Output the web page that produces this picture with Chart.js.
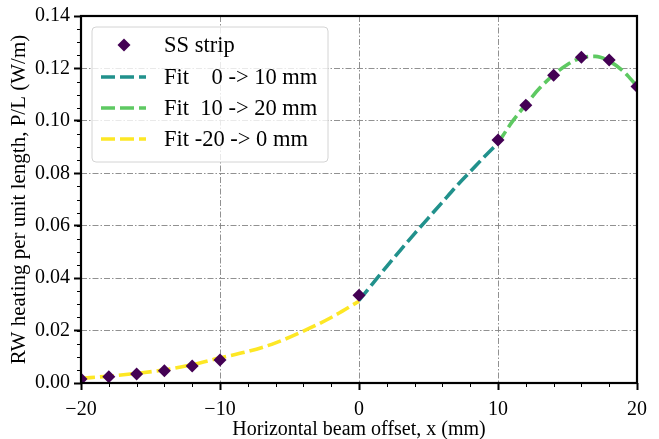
<!DOCTYPE html>
<html>
<head>
<meta charset="utf-8">
<script src="https://cdn.jsdelivr.net/npm/chart.js@4.4.1/dist/chart.umd.min.js"></script>
<style>
html,body{margin:0;padding:0;background:#fff;}
#wrap{width:659px;height:439px;position:relative;}
canvas{display:block;}
</style>
</head>
<body>
<div id="wrap"><canvas id="c" width="659" height="439"></canvas></div>
<script>
// ---- data ----
const stripX = [-20, -18, -16, -14, -12, -10, 0, 10, 12, 14, 16, 18, 20];
const stripY = [0.0015, 0.0024, 0.0034, 0.0047, 0.0065, 0.0088, 0.0335, 0.0927, 0.1060, 0.1174, 0.1243, 0.1232, 0.1131];

const fitAX = [0, 1, 2, 3, 4, 5, 6, 7, 8, 9, 10];
const fitAY = [0.0315, 0.0380, 0.0445, 0.0508, 0.0570, 0.0630, 0.0690, 0.0750, 0.0806, 0.0862, 0.0915];

const fitBX = [10, 11, 12, 13, 14, 15, 16, 17, 18, 19, 20];
const fitBY = [0.0915, 0.0995, 0.1062, 0.1125, 0.1175, 0.1215, 0.1240, 0.1246, 0.1228, 0.1190, 0.1133];

const fitCX = [-20, -18, -16, -14, -12, -10, -8, -6, -4, -2, 0];
const fitCY = [0.0018, 0.0026, 0.0037, 0.0050, 0.0070, 0.0096, 0.0120, 0.0153, 0.0198, 0.0250, 0.0312];

const xTicks = [-20, -10, 0, 10, 20];
const yTicks = [0.00, 0.02, 0.04, 0.06, 0.08, 0.10, 0.12, 0.14];
const xMinorStep = 2;
const yMinorStep = 0.005;

const seriesNames = ['SS strip', 'Fit    0 -> 10 mm', 'Fit  10 -> 20 mm', 'Fit -20 -> 0 mm'];
const seriesColors = ['#440154', '#21918c', '#5ec962', '#fde725'];

// ---- helpers ----
const pts = (xs, ys) => xs.map((x, i) => ({x: x, y: ys[i]}));
const FONT = "'Liberation Serif', 'DejaVu Serif', serif";
const DASH = [14, 5];

const minorTicks = {
  id: 'minorTicks',
  afterDraw(chart) {
    const ctx = chart.ctx;
    const xs = chart.scales.x, ys = chart.scales.y;
    const a = chart.chartArea;
    ctx.save();
    ctx.strokeStyle = '#000';
    ctx.lineWidth = 1;
    ctx.beginPath();
    for (let v = xs.min; v <= xs.max + 1e-9; v += xMinorStep) {
      const p = Math.round(xs.getPixelForValue(v)) + 0.5;
      ctx.moveTo(p, a.bottom); ctx.lineTo(p, a.bottom + 4);
    }
    for (let v = ys.min; v <= ys.max + 1e-9; v += yMinorStep) {
      const p = Math.round(ys.getPixelForValue(v)) + 0.5;
      ctx.moveTo(a.left, p); ctx.lineTo(a.left - 4, p);
    }
    ctx.stroke();
    // frame
    ctx.lineWidth = 2.2;
    ctx.strokeRect(a.left, a.top, a.right - a.left, a.bottom - a.top);
    ctx.restore();
  }
};

const legendBox = {
  id: 'legendBox',
  afterDraw(chart) {
    const ctx = chart.ctx;
    const a = chart.chartArea;
    const x0 = a.left + 11, y0 = a.top + 11, w = 236, h = 135;
    ctx.save();
    ctx.beginPath();
    ctx.roundRect(x0, y0, w, h, 4);
    ctx.fillStyle = 'rgba(255,255,255,0.8)';
    ctx.fill();
    ctx.strokeStyle = '#d4d4d4';
    ctx.lineWidth = 1;
    ctx.stroke();
    ctx.font = "22.5px " + FONT;
    ctx.textBaseline = 'middle';
    const rows = [y0 + 18, y0 + 50, y0 + 81, y0 + 112];
    chart.data.datasets.forEach((ds, i) => {
      const yy = rows[i];
      if (i === 0) {
        ctx.fillStyle = ds.backgroundColor;
        ctx.beginPath();
        const cx = x0 + 32, r = 6.5;
        ctx.moveTo(cx, yy - r); ctx.lineTo(cx + r, yy); ctx.lineTo(cx, yy + r); ctx.lineTo(cx - r, yy);
        ctx.closePath(); ctx.fill();
      } else {
        ctx.strokeStyle = ds.borderColor;
        ctx.lineWidth = 3.6;
        ctx.setLineDash(DASH);
        ctx.beginPath();
        ctx.moveTo(x0 + 9, yy); ctx.lineTo(x0 + 54, yy);
        ctx.stroke();
        ctx.setLineDash([]);
      }
      ctx.fillStyle = '#000';
      ctx.fillText(ds.label, x0 + 72, yy + 1);
    });
    ctx.restore();
  }
};

const lineDs = (i, xs, ys) => ({
  label: seriesNames[i],
  data: pts(xs, ys),
  showLine: true,
  borderColor: seriesColors[i],
  backgroundColor: seriesColors[i],
  borderWidth: 3.6,
  borderDash: DASH,
  pointRadius: 0,
  cubicInterpolationMode: 'monotone',
  borderCapStyle: 'butt'
});

new Chart(document.getElementById('c'), {
  type: 'scatter',
  data: {
    datasets: [
      {
        label: seriesNames[0],
        data: pts(stripX, stripY),
        showLine: false,
        pointStyle: 'rectRot',
        pointRadius: 6.5,
        pointHoverRadius: 6.5,
        backgroundColor: seriesColors[0],
        borderColor: seriesColors[0],
        borderWidth: 0,
        clip: 0
      },
      lineDs(1, fitAX, fitAY),
      lineDs(2, fitBX, fitBY),
      lineDs(3, fitCX, fitCY)
    ]
  },
  options: {
    responsive: false,
    animation: false,
    events: [],
    layout: {padding: {top: 16, right: 22, left: 0, bottom: 0}},
    plugins: {legend: {display: false}, tooltip: {enabled: false}},
    scales: {
      x: {
        type: 'linear', min: -20, max: 20,
        afterBuildTicks: (s) => { s.ticks = xTicks.map(v => ({value: v})); },
        afterFit: (s) => { s.height = 56; },
        ticks: {
          color: '#000', font: {family: FONT, size: 20}, padding: 8, maxRotation: 0,
          callback: (v) => String(v).replace('-', '\u2212')
        },
        grid: {color: '#858585', lineWidth: 0.9, drawTicks: true, tickLength: 7, tickColor: '#000', tickWidth: 2, tickBorderDash: []},
        border: {display: false, dash: [6, 2, 1.5, 2]},
        title: {display: true, text: 'Horizontal beam offset, x (mm)', color: '#000', font: {family: FONT, size: 20, lineHeight: 1}, padding: {top: 0, bottom: -1}}
      },
      y: {
        type: 'linear', min: 0, max: 0.14,
        afterBuildTicks: (s) => { s.ticks = yTicks.map(v => ({value: v})); },
        afterFit: (s) => { s.width = 81; },
        ticks: {
          color: '#000', font: {family: FONT, size: 20}, padding: 4,
          callback: (v) => Number(v).toFixed(2)
        },
        grid: {color: '#858585', lineWidth: 0.9, drawTicks: true, tickLength: 7, tickColor: '#000', tickWidth: 2, tickBorderDash: []},
        border: {display: false, dash: [6, 2, 1.5, 2]},
        title: {display: true, text: 'RW heating per unit length, P/L (W/m)', color: '#000', font: {family: FONT, size: 21, lineHeight: 1}, padding: {top: 9, bottom: 0}}
      }
    }
  },
  plugins: [minorTicks, legendBox]
});
</script>
</body>
</html>
